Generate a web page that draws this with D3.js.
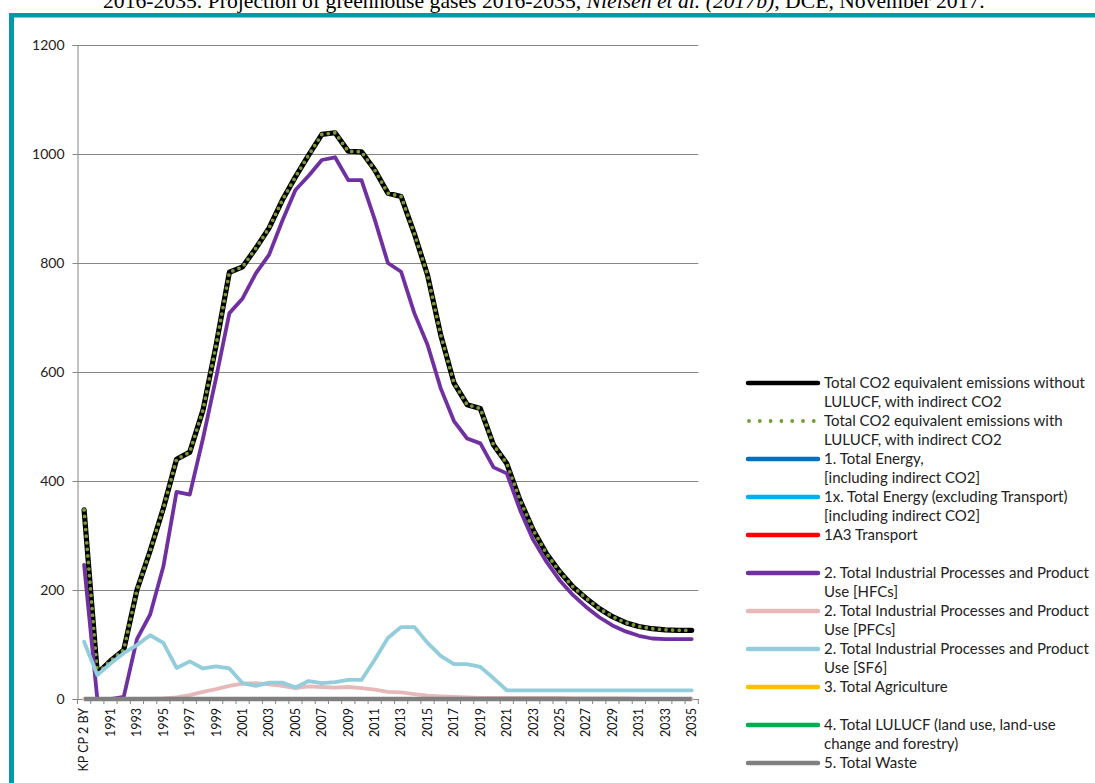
<!DOCTYPE html>
<html><head><meta charset="utf-8">
<script src="https://cdn.jsdelivr.net/npm/d3@7"></script>
<style>body{margin:0;background:#fff;overflow:hidden} svg{display:block}</style>
</head><body>
<svg id="c" width="1095" height="783"></svg>
<script>
const categories = ["KP CP 2 BY","1990","1991","1992","1993","1994","1995","1996","1997","1998","1999",
"2000","2001","2002","2003","2004","2005","2006","2007","2008","2009",
"2010","2011","2012","2013","2014","2015","2016","2017","2018","2019",
"2020","2021","2022","2023","2024","2025","2026","2027","2028","2029",
"2030","2031","2032","2033","2034","2035"];
const xTickLabels = ["KP CP 2 BY","1991","1993","1995","1997","1999","2001","2003","2005","2007","2009","2011","2013","2015","2017","2019","2021","2023","2025","2027","2029","2031","2033","2035"];
const yTicks = [0,200,400,600,800,1000,1200];

const totalWithoutLULUCF = [347,47,70,90,200,272,350,440,453,530,650,
783,793,827,864,915,958,998,1036,1039,1005,
1004,971,928,922,854,778,668,580,540,533,
466,432,365,310,267,234,206,185,166,151,
140,133,129,127,126,126];
const totalWithLULUCF = [347,47,70,90,200,272,350,440,453,530,650,
783,793,827,864,915,958,998,1036,1039,1005,
1004,971,928,922,854,778,668,580,540,533,
466,432,365,310,267,234,206,185,166,151,
140,133,129,127,126,126];
const hfcs = [246,0,0,4,110,155,243,380,375,478,590,
708,735,781,815,877,934,960,989,994,952,
952,880,800,784,708,650,570,510,478,469,
425,414,347,292,252,218,191,169,150,135,
124,116,111,110,110,110];
const pfcs = [0,0,0,0,0,0,1,3,7,13,18,
24,28,29,27,24,20,23,22,21,22,
20,17,13,12,9,6,5,4,3,2,
2,2,2,2,2,2,1,1,1,1,
1,0,0,0,0,0];
const sf6 = [105,44,65,84,99,117,103,57,69,56,60,
56,29,24,30,30,21,33,29,31,35,
35,72,112,132,132,103,79,64,64,59,
38,16,16,16,16,16,16,16,16,16,
16,16,16,16,16,16];
const waste = [0,0,0,0,0,0,0,0,0,0,0,
0,0,0,0,0,0,0,0,0,0,
0,0,0,0,0,0,0,0,0,0,
0,0,0,0,0,0,0,0,0,0,
0,0,0,0,0,0];

const legendLabels = [
 ["Total CO2 equivalent emissions without","LULUCF, with indirect CO2"],
 ["Total CO2 equivalent emissions with","LULUCF, with indirect CO2"],
 ["1. Total Energy,","[including indirect CO2]"],
 ["1x. Total Energy (excluding Transport)","[including indirect CO2]"],
 ["1A3 Transport",""],
 ["2. Total Industrial Processes and Product","Use [HFCs]"],
 ["2. Total Industrial Processes and Product","Use [PFCs]"],
 ["2. Total Industrial Processes and Product","Use [SF6]"],
 ["3. Total Agriculture",""],
 ["4. Total LULUCF (land use, land-use","change and forestry)"],
 ["5. Total Waste"]
];
const legendColors = ["#000000","#7A9A3A","#0070C0","#00B0F0","#FF0000","#7030A0","#E6B9B8","#92CDDC","#FFC000","#00B050","#808080"];
const seriesData = [totalWithoutLULUCF,totalWithLULUCF,null,null,null,hfcs,pfcs,sf6,null,null,waste];

const svg = d3.select("#c");
const font = "Lato, 'Liberation Sans', sans-serif";

// frame
svg.append("rect").attr("x",0).attr("y",0).attr("width",1095).attr("height",783).attr("fill","#fff");
svg.append("rect").attr("x",9).attr("y",13).attr("width",1086).attr("height",4.5).attr("fill","#0399A8");
svg.append("rect").attr("x",9).attr("y",13).attr("width",5).attr("height",770).attr("fill","#0399A8");

// header (partly above the top edge, as in the reference)
const hdr = svg.append("text").attr("x",103).attr("y",8).attr("font-family","'Liberation Serif','Times New Roman',serif").attr("font-size",19).attr("fill","#000");
hdr.append("tspan").text("2016-2035.   Projection of greenhouse gases 2016-2035, ");
hdr.append("tspan").attr("font-style","italic").text("Nielsen et al. (2017b)");
hdr.append("tspan").text(", DCE, November 2017.");
{
  const w = hdr.node().getComputedTextLength();
  hdr.attr("font-size", 19*882/w);
}

const x = d3.scaleBand().domain(categories).range([77.5,698.3]).padding(0);
const y = d3.scaleLinear().domain([0,1200]).range([699,45]);
const cx = c => x(c) + x.bandwidth()/2;

// gridlines
svg.append("g").selectAll("line").data(yTicks.filter(d=>d>0)).join("line")
 .attr("x1",77.5).attr("x2",698.3).attr("y1",d=>Math.round(y(d))+0.5).attr("y2",d=>Math.round(y(d))+0.5)
 .attr("stroke","#868686").attr("stroke-width",1);

// y axis
const yAxis = d3.axisLeft(y).tickValues(yTicks).tickSize(5).tickPadding(8).tickFormat(d3.format("d"));
const gy = svg.append("g").attr("transform","translate(77.5,0)").call(yAxis);
gy.select(".domain").attr("stroke","#868686");
gy.selectAll(".tick line").attr("stroke","#868686");
gy.selectAll(".tick text").attr("font-family",font).attr("font-size",14).attr("fill","#222");

// x axis
const xAxis = d3.axisBottom(x).tickSize(0).tickFormat(d => xTickLabels.includes(d) ? d : "");
const gx = svg.append("g").attr("transform","translate(0,699)").call(xAxis);
gx.select(".domain").attr("stroke","#868686");
gx.selectAll(".tick text").attr("font-family",font).attr("font-size",12.5).attr("fill","#111")
  .attr("transform","rotate(-90)").attr("text-anchor","end").attr("dy","0.35em").attr("x",-9).attr("y",0);
// boundary tick marks
svg.append("g").selectAll("line").data(categories.concat(["__end"])).join("line")
 .attr("x1",(d,i)=> (i<categories.length? x(d) : x(categories[categories.length-1])+x.bandwidth()))
 .attr("x2",(d,i)=> (i<categories.length? x(d) : x(categories[categories.length-1])+x.bandwidth()))
 .attr("y1",699).attr("y2",704).attr("stroke","#868686");

// series
const line = d3.line().x((d,i)=>cx(categories[i])).y(d=>y(d)).curve(d3.curveLinear);
const lines = svg.append("g").attr("fill","none").attr("stroke-linejoin","round");
seriesData.forEach((data,k)=>{
  if(!data) return;
  const p = lines.append("path").datum(data).attr("d",line).attr("stroke",legendColors[k]);
  if(k===0){ p.attr("stroke-width",5.2).attr("stroke-linecap","round"); }
  else if(k===1){ p.attr("stroke-width",3.8).attr("stroke-dasharray","0,6.6").attr("stroke-linecap","round"); }
  else if(k===10){ p.attr("stroke-width",4.5).attr("stroke-linecap","butt"); }
  else { p.attr("stroke-width",3.8).attr("stroke-linecap","round"); }
});

// legend
const lg = svg.append("g");
const rowH = 19;
let row = 0;
const probe = lg.append("text").attr("font-family",font).attr("font-size",13).text("2. Total Industrial Processes and Product");
const lfs = 13*265/probe.node().getComputedTextLength();
probe.remove();
legendLabels.forEach((lbls,k)=>{
  const yy = 383 + row*rowH;
  const ln = lg.append("line").attr("x1",748).attr("x2",818).attr("y1",yy).attr("y2",yy)
    .attr("stroke",legendColors[k]).attr("stroke-linecap","round");
  if(k===1){ ln.attr("x1",749).attr("x2",815).attr("stroke-width",3.8).attr("stroke-dasharray","0,10.8"); }
  else ln.attr("stroke-width",4.5);
  lbls.forEach((t,j)=>{
    if(t) lg.append("text").attr("x",824).attr("y",yy+j*rowH).attr("dy","0.35em")
      .attr("font-family",font).attr("font-size",lfs).attr("fill","#222").text(t);
  });
  row += 2;
});
</script>
</body></html>
